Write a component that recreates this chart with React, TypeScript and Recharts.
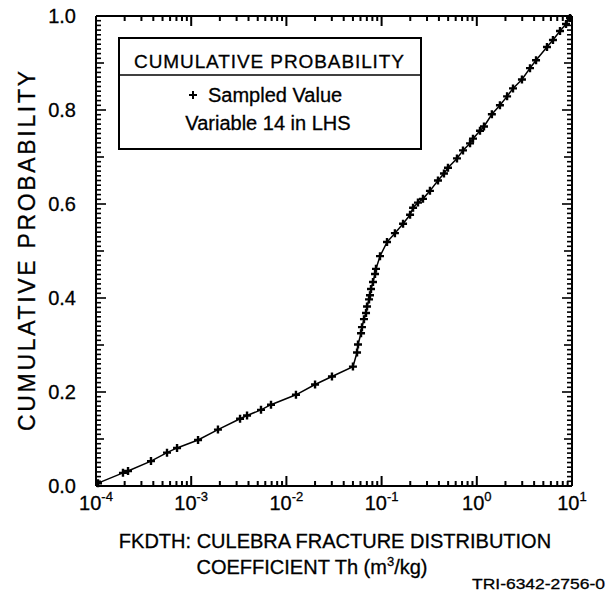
import React from 'react';
import { LineChart, Line, XAxis, YAxis } from 'recharts';

const sampledValues = [
  1.05e-4, 1.92e-4, 2.17e-4, 3.78e-4, 5.57e-4, 7.1e-4, 1.18e-3, 1.91e-3, 3.26e-3, 3.86e-3,
  5.41e-3, 6.89e-3, 1.26e-2, 2.0e-2, 3.01e-2, 5.0e-2,
  0.0552, 0.0565, 0.0608, 0.0622, 0.0653, 0.0686, 0.0703, 0.0738, 0.0755, 0.0774,
  0.0812, 0.0853, 0.0873, 0.0962,
  0.114, 0.138, 0.168, 0.199, 0.214, 0.241, 0.272, 0.322, 0.391, 0.452, 0.498, 0.619,
  0.716, 0.849, 0.912, 1.08, 1.19, 1.44, 1.75, 2.08, 2.4, 2.98, 3.62, 4.19, 5.46, 6.31,
  7.48, 8.65, 9.53,
];
const cumulativeProbs = [
  0.006, 0.028, 0.032, 0.053, 0.071, 0.081, 0.098, 0.12, 0.143, 0.15,
  0.162, 0.173, 0.194, 0.216, 0.233, 0.254,
  0.284, 0.301, 0.325, 0.338, 0.355, 0.368, 0.382, 0.397, 0.406, 0.419,
  0.434, 0.451, 0.462, 0.489,
  0.519, 0.538, 0.558, 0.577, 0.592, 0.603, 0.611, 0.628, 0.65, 0.665, 0.677, 0.697,
  0.714, 0.729, 0.739, 0.756, 0.765, 0.791, 0.81, 0.829, 0.846, 0.865, 0.889, 0.906, 0.934, 0.949,
  0.968, 0.983, 0.996,
];

const xMajorTicks = [1e-4, 1e-3, 1e-2, 1e-1, 1, 10];
const xTickExponents = ['-4', '-3', '-2', '-1', '0', '1'];
const xMinorMultipliers = [2, 3, 4, 5, 6, 7, 8, 9];
const yMajorTicks = [0, 0.2, 0.4, 0.6, 0.8, 1.0];
const yTickLabels = ['0.0', '0.2', '0.4', '0.6', '0.8', '1.0'];

const data = sampledValues.map((x, i) => ({ x, p: cumulativeProbs[i] }));

const xMinorTicks: number[] = [];
xMajorTicks.slice(0, -1).forEach((d) => xMinorMultipliers.forEach((m) => xMinorTicks.push(+(m * d).toPrecision(6))));
const xAllTicks = [...xMajorTicks, ...xMinorTicks].sort((a, b) => a - b);

const yAllTicks: number[] = [];
for (let i = 0; i <= 100; i++) yAllTicks.push(+(i / 100).toFixed(2));

const FONT = '"Liberation Sans", Arial, Helvetica, sans-serif';
const INK = '#000';

const majorIndexX = (v: number) => xMajorTicks.findIndex((t) => Math.abs(t - v) / t < 1e-6);
const majorIndexY = (v: number) => yMajorTicks.findIndex((t) => Math.abs(t - v) < 1e-6);
const isTenthY = (v: number) => Math.abs(v * 10 - Math.round(v * 10)) < 1e-6;
const xTickLen = (v: number) => (majorIndexX(v) >= 0 ? 10 : 5);
const yTickLen = (v: number) => (majorIndexY(v) >= 0 ? 10 : isTenthY(v) ? 8 : 5);

// tick marks as filled rectangles pointing into the plot
const BottomTick = (props: any) => {
  const x = Number(props.x);
  const y = Number(props.y);
  const v = props.payload.value;
  const mi = majorIndexX(v);
  const len = xTickLen(v);
  return (
    <g>
      <rect x={x - 1} y={y - len} width={2} height={len} fill={INK} stroke="none" />
      {mi >= 0 && (
        <text x={x} y={y + 24} textAnchor="middle" fontSize={20} fontFamily={FONT} fill={INK} stroke={INK} strokeWidth={0.3}>
          10
          <tspan dy={-9} fontSize={13}>{xTickExponents[mi]}</tspan>
        </text>
      )}
    </g>
  );
};

const TopTick = (props: any) => {
  const x = Number(props.x);
  const y = Number(props.y);
  const len = xTickLen(props.payload.value);
  return <rect x={x - 1} y={y} width={2} height={len} fill={INK} stroke="none" />;
};

const LeftTick = (props: any) => {
  const x = Number(props.x);
  const y = Number(props.y);
  const v = props.payload.value;
  const mi = majorIndexY(v);
  const len = yTickLen(v);
  return (
    <g>
      <rect x={x} y={y - 0.8} width={len} height={1.6} fill={INK} stroke="none" />
      {mi >= 0 && (
        <text x={x - 20} y={y} dy="0.36em" textAnchor="end" fontSize={20} fontFamily={FONT} fill={INK} stroke={INK} strokeWidth={0.3}>
          {yTickLabels[mi]}
        </text>
      )}
    </g>
  );
};

const RightTick = (props: any) => {
  const x = Number(props.x);
  const y = Number(props.y);
  const len = yTickLen(props.payload.value);
  return <rect x={x - len} y={y - 0.8} width={len} height={1.6} fill={INK} stroke="none" />;
};

const PlusDot = (props: any) => {
  const { cx, cy, index } = props;
  if (cx == null || cy == null) return <g key={`d${index}`} />;
  return (
    <path
      key={`d${index}`}
      d={`M${cx - 4},${cy}H${cx + 4}M${cx},${cy - 4}V${cy + 4}`}
      stroke={INK}
      strokeWidth={2.4}
      fill="none"
    />
  );
};

export default function App() {
  return (
    <div style={{ position: 'absolute', left: 0, top: 0, width: 611, height: 599, background: '#fff' }}>
      <LineChart width={611} height={599} data={data} margin={{ top: 15, right: 38, bottom: 83, left: 36 }}>
        <XAxis
          dataKey="x"
          type="number"
          scale="log"
          domain={[1e-4, 10]}
          allowDataOverflow
          ticks={xAllTicks}
          interval={0}
          tickSize={0}
          tickMargin={0}
          tick={BottomTick}
          axisLine={{ stroke: INK, strokeWidth: 2 }}
          tickLine={false}
          height={30}
        />
        <XAxis
          xAxisId="top"
          orientation="top"
          dataKey="x"
          type="number"
          scale="log"
          domain={[1e-4, 10]}
          allowDataOverflow
          ticks={xAllTicks}
          interval={0}
          tickSize={0}
          tickMargin={0}
          tick={TopTick}
          axisLine={{ stroke: INK, strokeWidth: 2 }}
          tickLine={false}
          height={1}
        />
        <YAxis
          type="number"
          domain={[0, 1]}
          ticks={yAllTicks}
          interval={0}
          tickSize={0}
          tickMargin={0}
          tick={LeftTick}
          axisLine={{ stroke: INK, strokeWidth: 2 }}
          tickLine={false}
          width={60}
        />
        <YAxis
          yAxisId="right"
          orientation="right"
          type="number"
          domain={[0, 1]}
          ticks={yAllTicks}
          interval={0}
          tickSize={0}
          tickMargin={0}
          tick={RightTick}
          axisLine={{ stroke: INK, strokeWidth: 2 }}
          tickLine={false}
          width={1}
        />
        <Line dataKey="p" stroke={INK} strokeWidth={1.5} dot={PlusDot} activeDot={false} isAnimationActive={false} />
        <Line xAxisId="top" yAxisId="right" dataKey="p" stroke="none" dot={false} activeDot={false} isAnimationActive={false} />
      </LineChart>
      <svg width={611} height={599} style={{ position: 'absolute', left: 0, top: 0, pointerEvents: 'none' }} fontFamily={FONT}>
        <g fill={INK} stroke={INK} strokeWidth={0.3}>
          <text x={0} y={0} transform="translate(35,251) rotate(-90)" textAnchor="middle" fontSize={23} textLength={360} lengthAdjust="spacing">
            CUMULATIVE PROBABILITY
          </text>
          <text x={335} y={548} textAnchor="middle" fontSize={20}>
            FKDTH: CULEBRA FRACTURE DISTRIBUTION
          </text>
          <text x={312} y={574} textAnchor="middle" fontSize={20}>
            COEFFICIENT Th (m<tspan dy={-8} fontSize={13}>3</tspan>
            <tspan dy={8}>/kg)</tspan>
          </text>
          <text x={605} y={589} textAnchor="end" fontSize={15} textLength={133} lengthAdjust="spacingAndGlyphs">
            TRI-6342-2756-0
          </text>
        </g>
        <rect x={119} y={38} width={302} height={111} fill="#fff" stroke={INK} strokeWidth={2} />
        <line x1={119} x2={421} y1={75} y2={75} stroke={INK} strokeWidth={1.5} />
        <g fill={INK} stroke={INK} strokeWidth={0.3}>
          <text x={134} y={68} fontSize={19} textLength={270} lengthAdjust="spacing">
            CUMULATIVE PROBABILITY
          </text>
          <text x={208} y={102} fontSize={20}>
            Sampled Value
          </text>
          <text x={268} y={130} textAnchor="middle" fontSize={20}>
            Variable 14 in LHS
          </text>
        </g>
        <path d="M189,95H197M193,91V99" stroke={INK} strokeWidth={2} />
      </svg>
    </div>
  );
}
